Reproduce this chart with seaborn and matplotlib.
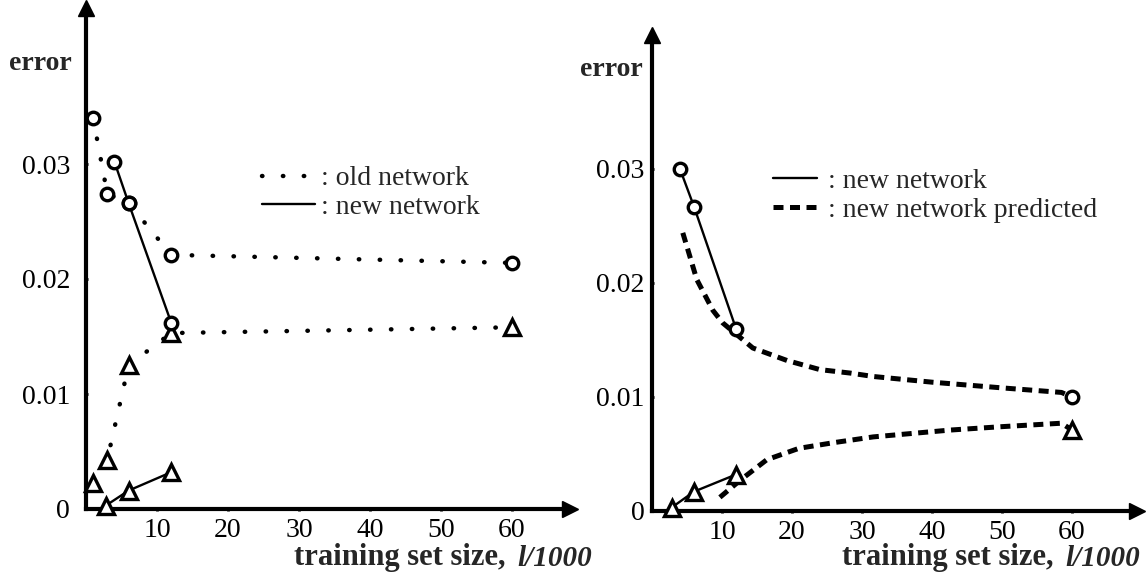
import numpy as np
import pandas as pd
import matplotlib
matplotlib.use("Agg")
import matplotlib.pyplot as plt
from matplotlib.lines import Line2D
import seaborn as sns

# ---------------- data ----------------
# left panel
old_x = [1, 3, 6, 12, 60]
old_circle = [0.0340, 0.0274, 0.0266, 0.0221, 0.0214]
old_triangle = [0.0023, 0.0043, 0.0125, 0.0153, 0.0158]
new_circle_x = [4, 6, 12]
new_circle = [0.0302, 0.0266, 0.0162]
new_tri_x = [2.8, 6, 12]
new_triangle = [0.0003, 0.0016, 0.0032]

# right panel
r_circle = [0.0300, 0.0267, 0.0160]
r_triangle = [0.0003, 0.0017, 0.0032]
pred_up_x = [4.4, 6.4, 8.7, 10.1, 14.4, 19.3, 24, 28.3, 31.6, 40, 50, 58.5, 60]
pred_up = [0.0244, 0.0203, 0.0176, 0.0165, 0.0143, 0.0132, 0.0124, 0.0121, 0.0118, 0.0113, 0.0108, 0.0104, 0.0100]
pred_lo_x = [9.7, 12.6, 16.4, 21, 26, 31.6, 42.6, 50, 58.5, 60]
pred_lo = [0.0012, 0.0027, 0.0045, 0.0055, 0.0060, 0.0065, 0.0071, 0.0074, 0.0077, 0.0071]

xticks = [10, 20, 30, 40, 50, 60]
yticks = [0, 0.01, 0.02, 0.03]
ytick_labels = ["0", "0.01", "0.02", "0.03"]
xlabel = "training set size,"
xlabel_it = "l/1000"

# ---------------- style ----------------
sns.set_theme(style="white")
plt.rcParams["font.family"] = ["Liberation Serif", "DejaVu Serif"]
FS = 20

W, H = 1148, 580
fig = plt.figure(figsize=(W / 100, H / 100), dpi=100)
fig.patch.set_facecolor("white")

def px_axes(x0, y0, x1, y1):
    return fig.add_axes([x0 / W, (H - y1) / H, (x1 - x0) / W, (y1 - y0) / H])

axL = px_axes(86, 8, 570, 509)
axL.set_xlim(0, (570 - 86) / 7.1)
axL.set_ylim(0, (509 - 8) / 11500)

axR = px_axes(652, 35, 1137, 511)
axR.set_xlim(0, (1137 - 652) / 7.0)
axR.set_ylim(0, (511 - 35) / 11400)

circ = dict(marker="o", markersize=9, markeredgewidth=2.4, markerfacecolor="white",
            markeredgecolor="black")
tri = dict(marker="^", markersize=12, markeredgewidth=2.4, markerfacecolor="white",
           markeredgecolor="black")
dotted = dict(linestyle=(0, (0.1, 4.6)), linewidth=3.2, dash_capstyle="round")
dashed = dict(linestyle=(0, (2.0, 1.3)), linewidth=3.6, dash_capstyle="butt")
solid = dict(linestyle="-", linewidth=1.7)

def line(ax, x, y, style, mk=None, markevery=None, z=3):
    kw = dict(style)
    if mk is not None:
        kw.update(mk)
    if markevery is not None:
        kw["markevery"] = markevery
    sns.lineplot(x=x, y=y, ax=ax, color="black", sort=False, estimator=None,
                 zorder=z, clip_on=False, **kw)

# left panel
line(axL, old_x, old_circle, dotted, circ)
line(axL, old_x, old_triangle, dotted, tri)
line(axL, new_circle_x, new_circle, solid, circ, z=4)
line(axL, new_tri_x, new_triangle, solid, tri, z=4)

# right panel
line(axR, pred_up_x, pred_up, dashed, circ, markevery=[len(pred_up_x) - 1])
line(axR, pred_lo_x, pred_lo, dashed, tri, markevery=[len(pred_lo_x) - 1])
line(axR, new_circle_x, r_circle, solid, circ, z=4)
line(axR, new_tri_x, r_triangle, solid, tri, z=4)

for ax, ypad in ((axL, 10), (axR, 4)):
    ax.set_facecolor("white")
    for s in ("top", "right"):
        ax.spines[s].set_visible(False)
    for s in ("left", "bottom"):
        ax.spines[s].set_linewidth(3)
        ax.spines[s].set_color("black")
    ax.set_xticks(xticks)
    ax.set_xticklabels([str(t) for t in xticks])
    ax.set_yticks(yticks)
    ax.set_yticklabels(ytick_labels)
    ax.tick_params(axis="both", which="both", length=3, width=2, direction="inout",
                   colors="black", labelsize=FS, left=True, bottom=True)
    ax.tick_params(axis="x", pad=5)
    ax.tick_params(axis="y", pad=ypad)
    ax.set_xlabel("")
    ax.set_ylabel("")
    ax.grid(False)
    # arrow heads
    ax.plot(1, 0, marker=">", markersize=11, color="black", transform=ax.transAxes,
            clip_on=False, zorder=6)
    ax.plot(0, 1, marker="^", markersize=11, color="black", transform=ax.transAxes,
            clip_on=False, zorder=6)
    if ax.get_legend() is not None:
        ax.get_legend().remove()

# y label "error"
fig.text(72 / W, 1 - 63 / H, "error", ha="right", va="center", fontsize=FS, fontweight="bold")
fig.text(643 / W, 1 - 70 / H, "error", ha="right", va="center", fontsize=FS, fontweight="bold")

# x labels
fig.canvas.draw()
renderer = fig.canvas.get_renderer()
for xr in (592, 1140):
    t2 = fig.text(xr / W, 1 - 558 / H, xlabel_it, ha="right", va="center", fontsize=21,
                  fontweight="bold", fontstyle="italic")
    ext = t2.get_window_extent(renderer=renderer)
    fig.text((ext.x0 - 12) / W, 1 - 558 / H, xlabel, ha="right", va="center", fontsize=22,
             fontweight="bold")

# legends
hL = [Line2D([], [], color="black", **dotted), Line2D([], [], color="black", **solid)]
legL = axL.legend(hL, [": old network", ": new network"], loc="upper left",
                  bbox_to_anchor=(0.364, 0.685), frameon=False, fontsize=FS,
                  handlelength=1.9, handletextpad=0.2, labelspacing=0.12,
                  borderpad=0, borderaxespad=0)
hR = [Line2D([], [], color="black", **solid), Line2D([], [], color="black", **dashed)]
legR = axR.legend(hR, [": new network", ": new network predicted"], loc="upper left",
                  bbox_to_anchor=(0.249, 0.72), frameon=False, fontsize=FS,
                  handlelength=1.6, handletextpad=0.4, labelspacing=0.12,
                  borderpad=0, borderaxespad=0)

fig.savefig("out.png", dpi=100, facecolor="white")
